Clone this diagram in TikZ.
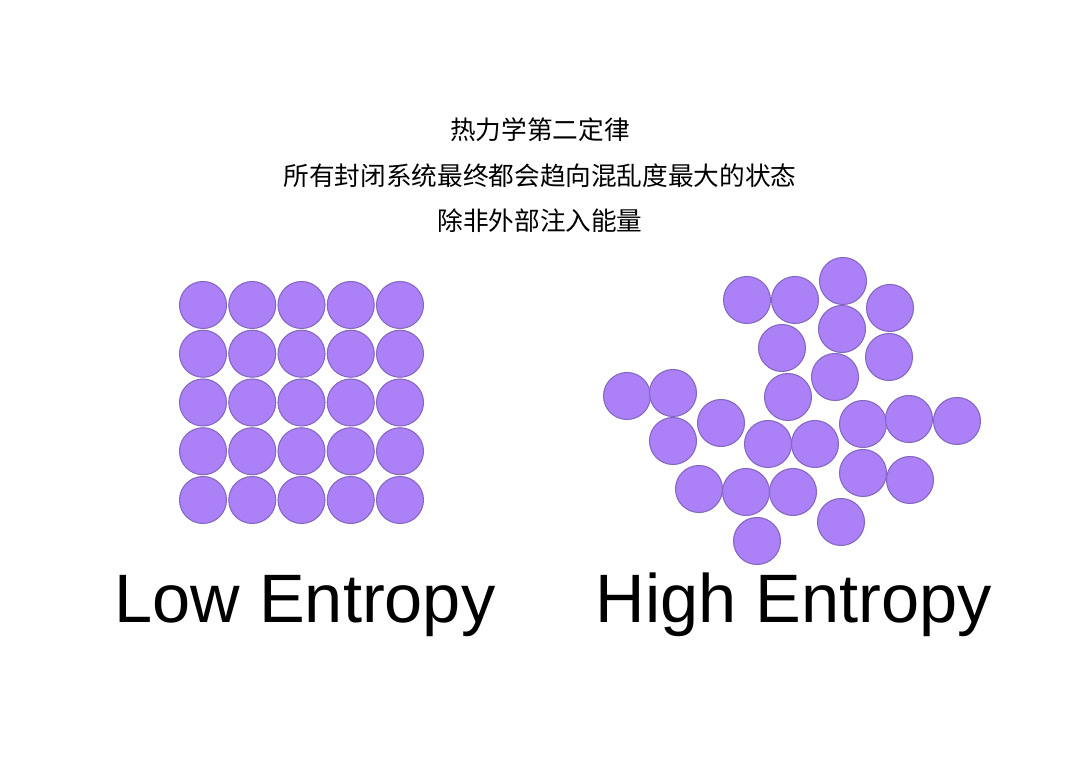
\documentclass[tikz,border=0pt]{standalone}
\usepackage{fontspec}
\setmainfont{Liberation Sans}
\newfontfamily\cjk{Noto Sans CJK SC}
\usepackage{xcolor}
\usepackage{tikz}
\definecolor{EPFill}{HTML}{AC80F7}
\definecolor{EPEdge}{HTML}{8467C0}

\begin{document}
\begin{tikzpicture}[x=0.02cm,y=0.02cm]
\tikzset{
  ball/.style={fill=EPFill,draw=EPEdge,line width=0.6pt},
  lawtext/.style={anchor=center,font=\cjk\fontsize{14.6}{17}\selectfont},
  bigtext/.style={anchor=base,font=\fontsize{39}{44}\selectfont}
}
\path[use as bounding box,fill=white] (0,0) rectangle (1080,763);
% title lines
\node[lawtext] (law) at (540,633) {热力学第二定律};
\node[lawtext] (rule) at (540,587) {所有封闭系统最终都会趋向混乱度最大的状态};
\node[lawtext] (unless) at (540,542) {除非外部注入能量};
% ordered grid
\foreach \i in {0,...,4}
  \foreach \j in {0,...,4}
    \draw[ball] (203+49.25*\i,458-48.75*\j) circle (23.5);
% scattered balls
\foreach \x/\y in {747/463,795/463,843/482,890/455,842/434,782/415,889/406,835/386,
                   627/367,673/370,788/366,721/340,673/322,768/319,815/319,863/339,
                   909/344,957/342,863/290,910/283,699/274,746/271,793/271,841/241,757/222}
  \draw[ball] (\x,\y) circle (23.5);
% captions
\node[bigtext] (low) at (305,140) {Low Entropy};
\node[bigtext] (high) at (794,140) {High Entropy};
\end{tikzpicture}
\end{document}
